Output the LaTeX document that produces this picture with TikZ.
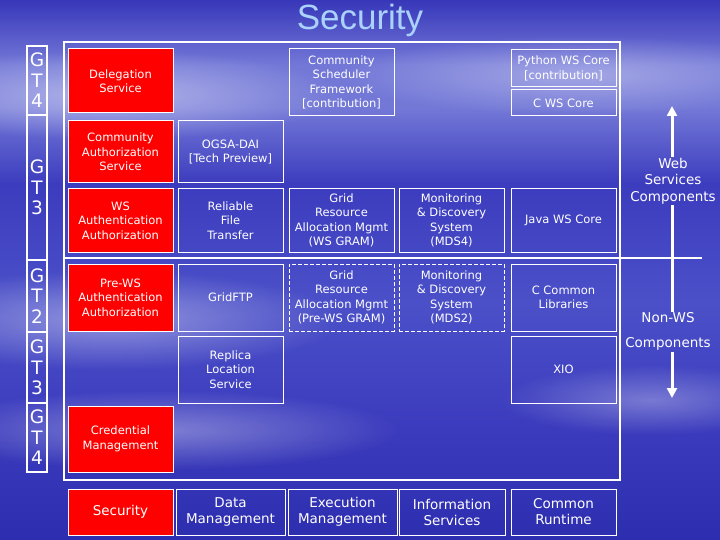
\documentclass[tikz,border=0pt]{standalone}
\usepackage{fontspec}
\setmainfont{DejaVu Sans}
\newfontfamily\titlefont{Liberation Sans}
\usetikzlibrary{arrows.meta,fadings}

\definecolor{skyA}{RGB}{55,55,185}
\definecolor{skyL}{RGB}{115,120,215}
\definecolor{skyB}{RGB}{75,80,200}
\definecolor{skyC}{RGB}{60,60,190}
\definecolor{skyD}{RGB}{45,45,175}
\definecolor{titleblue}{RGB}{170,210,250}
\pgfdeclareverticalshading{sky}{100bp}{color(0bp)=(skyD); color(25bp)=(skyD); color(36bp)=(skyC); color(47bp)=(skyB); color(58bp)=(skyC); color(65bp)=(skyL); color(69bp)=(skyL); color(75bp)=(skyA); color(100bp)=(skyA)}
\tikzfading[name=softfade,inner color=transparent!0,outer color=transparent!100]

\begin{document}
\begin{tikzpicture}[x=1pt,y=-1pt,every node/.style={text=white,align=center,inner sep=1pt},
  cell/.style={draw=white,line width=1pt,minimum width=105pt,font=\fontsize{11.5}{14.5}\selectfont},
  redcell/.style={cell,fill=red},
  dashcell/.style={cell,dash pattern=on 4pt off 2pt},
  basecell/.style={cell,minimum height=46pt,font=\fontsize{13.5}{16}\selectfont},
  gt/.style={draw=white,line width=2pt,minimum width=20pt,inner sep=0pt,font=\fontsize{18.5}{20.5}\selectfont},
  side/.style={font=\fontsize{13.5}{16.5}\selectfont},
  bar/.style={white,line width=3pt},
  tipbar/.style={bar,-{Triangle[width=10pt,length=10pt]}},
  cloud/.style={white,path fading=softfade}]
\shade[shading=sky] (0,0) rectangle (720,540);
\useasboundingbox (0,0) rectangle (720,540);
\fill[cloud,opacity=.45] (110,95) ellipse (230 and 45);
\fill[cloud,opacity=.35] (580,75) ellipse (240 and 40);
\fill[cloud,opacity=.4] (110,320) ellipse (230 and 50);
\fill[cloud,opacity=.35] (160,430) ellipse (240 and 40);
\fill[cloud,opacity=.3] (650,400) ellipse (150 and 35);
\node[anchor=base,text=titleblue,font=\titlefont\fontsize{35}{40}\selectfont] (title) at (360,30) {Security};
\node[draw=white,line width=2pt,minimum width=556pt,minimum height=438pt,inner sep=0pt] (frame) at (342,261) {};
\coordinate (divL) at (64,258);
\coordinate (divR) at (702,258);
\draw[white,line width=2pt] (divL) -- (divR);
\node[gt,minimum height=69pt] (gtA) at (37,80.5) {G\\T\\4};
\node[gt,minimum height=145pt] (gtB) at (37,187.5) {G\\T\\3};
\node[gt,minimum height=72pt] (gtC) at (37,296) {G\\T\\2};
\node[gt,minimum height=71pt] (gtD) at (37,367.5) {G\\T\\3};
\node[gt,minimum height=69pt] (gtE) at (37,437.5) {G\\T\\4};
\node[redcell,minimum height=64pt] (deleg) at (120.5,81) {Delegation\\Service};
\node[cell,minimum height=67pt] (csf) at (341.5,82.5) {Community\\Scheduler\\Framework\\{[contribution]}};
\node[cell,minimum height=37pt] (pycore) at (563.5,68.5) {Python WS Core\\{[contribution]}};
\node[cell,minimum height=26pt] (ccore) at (563.5,103) {C WS Core};
\node[redcell,minimum height=62pt] (cas) at (120.5,152) {Community\\Authorization\\Service};
\node[cell,minimum height=62pt] (ogsadai) at (230.5,152) {OGSA-DAI\\{[Tech Preview]}};
\node[redcell,minimum height=63pt] (wsauth) at (120.5,220.5) {WS\\Authentication\\Authorization};
\node[cell,minimum height=63pt] (rft) at (230.5,220.5) {Reliable\\File\\Transfer};
\node[cell,minimum height=63pt] (wsgram) at (341.5,220.5) {Grid\\Resource\\Allocation Mgmt\\(WS GRAM)};
\node[cell,minimum height=63pt] (mdsfour) at (451.5,220.5) {Monitoring\\\& Discovery\\System\\(MDS4)};
\node[cell,minimum height=63pt] (javacore) at (563.5,220.5) {Java WS Core};
\node[redcell,minimum height=67pt] (prewsauth) at (120.5,297.5) {Pre-WS\\Authentication\\Authorization};
\node[cell,minimum height=67pt] (gridftp) at (230.5,297.5) {GridFTP};
\node[dashcell,minimum height=67pt] (prewsgram) at (341.5,297.5) {Grid\\Resource\\Allocation Mgmt\\(Pre-WS GRAM)};
\node[dashcell,minimum height=67pt] (mdstwo) at (451.5,297.5) {Monitoring\\\& Discovery\\System\\(MDS2)};
\node[cell,minimum height=67pt] (clibs) at (563.5,297.5) {C Common\\Libraries};
\node[cell,minimum height=67pt] (rls) at (230.5,369.5) {Replica\\Location\\Service};
\node[cell,minimum height=67pt] (xio) at (563.5,369.5) {XIO};
\node[redcell,minimum height=66pt] (credmgmt) at (120.5,439) {Credential\\Management};
\node[basecell,fill=red] (security) at (120.5,512) {Security};
\node[basecell,minimum width=109pt] (datamgmt) at (230.5,512) {Data\\Management};
\node[basecell,minimum width=109pt] (execmgmt) at (342.5,512) {Execution\\Management};
\node[basecell,minimum width=106pt] (infoserv) at (452,512) {Information\\Services};
\node[basecell] (runtime) at (563.5,512) {Common\\Runtime};
\node[side] (websc) at (673,181) {Web\\Services\\Components};
\node[side] (nonws) at (668,318) {Non-WS};
\node[side] (nonwsc) at (668,344) {Components};
\coordinate (uptip) at (672,106);
\coordinate (downtip) at (672,398);
\draw[tipbar] (websc.north -| uptip) -- (uptip);
\draw[bar] (websc.south -| uptip) -- (nonws.north -| uptip);
\draw[tipbar] (nonwsc.south -| downtip) -- (downtip);
\end{tikzpicture}
\end{document}
